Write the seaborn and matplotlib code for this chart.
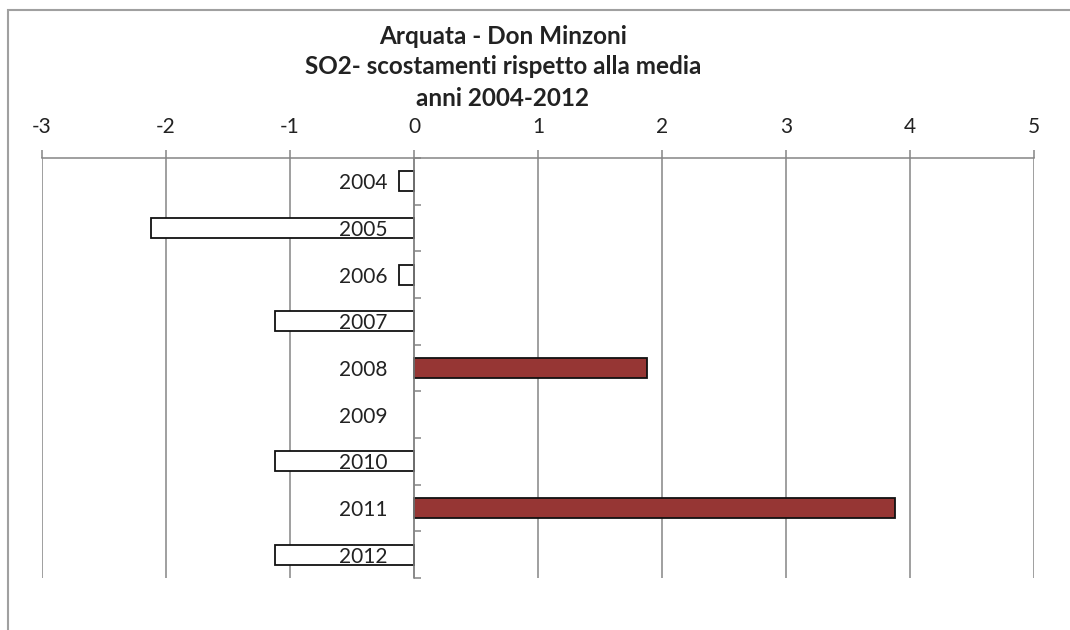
import numpy as np
import pandas as pd
import matplotlib
matplotlib.use("Agg")
import matplotlib.pyplot as plt
from matplotlib.patches import Rectangle
import seaborn as sns

# SO2 deviation from the 2004-2012 mean (2009: no data)
years = ["2004", "2005", "2006", "2007", "2008", "2009", "2010", "2011", "2012"]
deviation = [-0.125, -2.125, -0.125, -1.125, 1.875, np.nan, -1.125, 3.875, -1.125]
x_ticks = [-3, -2, -1, 0, 1, 2, 3, 4, 5]
title_lines = ["Arquata - Don Minzoni",
               "SO2- scostamenti rispetto alla media",
               "anni 2004-2012"]

sns.set_theme(style="white")
plt.rcParams["font.family"] = ["Lato", "DejaVu Sans"]

df = pd.DataFrame({"year": years, "deviation": deviation})
palette = {y: ("#963634" if (v == v and v > 0) else "#ffffff")
           for y, v in zip(years, deviation)}

fig = plt.figure(figsize=(10.7, 6.3), dpi=100)
fig.patch.set_facecolor("white")
ax = fig.add_axes([42 / 1070, 1 - 578 / 630, 992 / 1070, 420 / 630])

sns.barplot(data=df, x="deviation", y="year", hue="year", palette=palette,
            order=years, hue_order=years, orient="h", errorbar=None,
            width=0.43, edgecolor="#111111", linewidth=1.3, dodge=False,
            saturation=1, legend=False, ax=ax)

grid_col = "#858585"
ax.set_xlim(-3, 5)
ax.set_ylim(len(years) - 0.5, -0.5)
ax.set_xticks(x_ticks)
ax.set_xticklabels([str(t) for t in x_ticks])
ax.xaxis.tick_top()
ax.xaxis.set_label_position("top")
ax.grid(axis="x", color=grid_col, linewidth=1.1)
ax.grid(axis="y", visible=False)
ax.tick_params(axis="x", which="major", direction="out", length=6,
               color=grid_col, width=1.1, pad=9, labelsize=15,
               labelcolor="#222222")

# category axis sits at zero, labels to its left
ax.spines["left"].set_position(("data", 0))
ax.spines["left"].set_color(grid_col)
ax.spines["left"].set_linewidth(1.1)
ax.spines["top"].set_color(grid_col)
ax.spines["top"].set_linewidth(1.1)
ax.spines["right"].set_visible(False)
ax.spines["bottom"].set_visible(False)
ax.set_yticks(range(len(years)))
ax.set_yticklabels(years)
ax.set_yticks(np.arange(-0.5, len(years), 1.0), minor=True)
ax.tick_params(axis="y", which="major", length=0, pad=19, labelsize=15,
               labelcolor="#222222")
ax.tick_params(axis="y", which="minor", direction="in", length=5,
               color=grid_col, width=1.1, left=True)
ax.set_xlabel("")
ax.set_ylabel("")
ax.set_facecolor("white")

# gridlines behind the bars, category labels above them
ax.set_axisbelow(True)
ax.xaxis.set_zorder(0.5)
ax.yaxis.set_zorder(3)

y0 = 1 - 36 / 630
for i, line in enumerate(title_lines):
    fig.text(503 / 1070, y0 - i * 31 / 630, line, ha="center", va="center",
             fontsize=17.5, fontweight="bold", color="#222222")

fig.patches.append(Rectangle((8 / 1070, -0.1), 1.2, 1.1 - 10 / 630,
                             transform=fig.transFigure, fill=False,
                             edgecolor="#a0a0a0", linewidth=1.5))

fig.savefig("out.png", dpi=100)
